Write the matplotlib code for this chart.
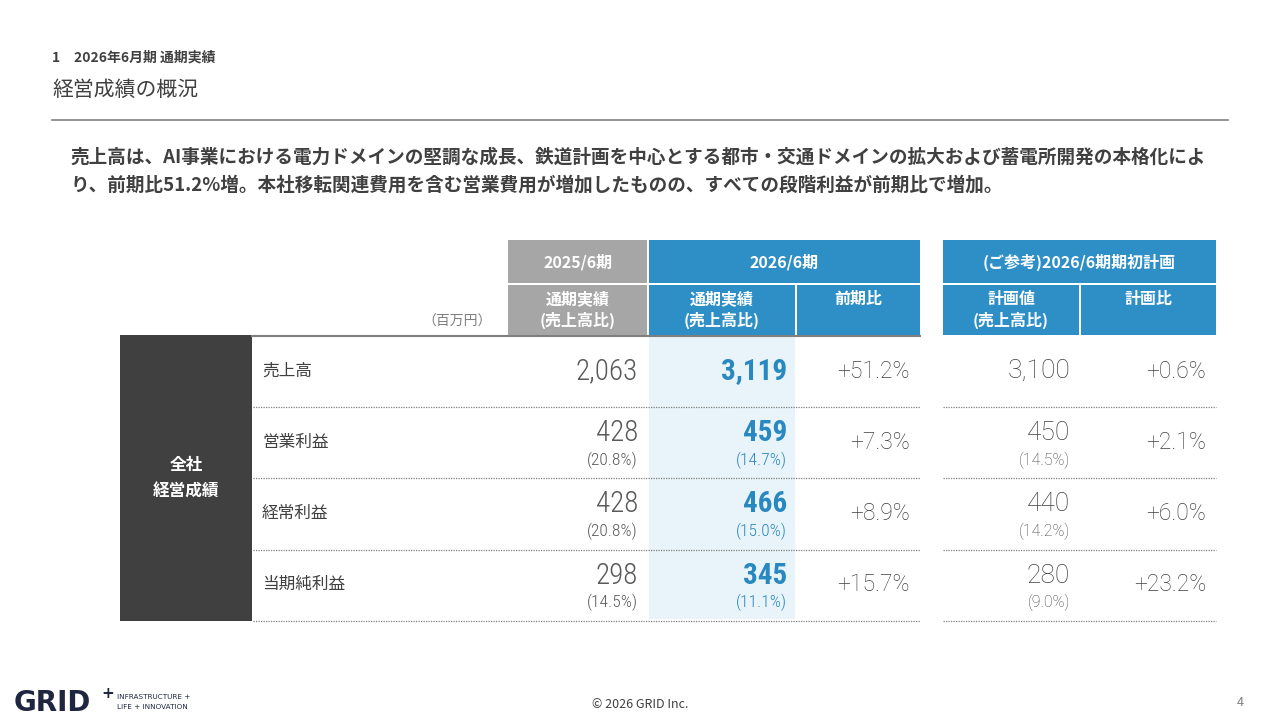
import matplotlib
matplotlib.use("Agg")
import matplotlib.pyplot as plt
from matplotlib import font_manager as fm
from matplotlib.patches import Rectangle

# ---------------- data ----------------
row_labels = ['売上高', '営業利益', '経常利益', '当期純利益']
prev_values = [2063, 428, 428, 298]
prev_ratio = [None, 20.8, 20.8, 14.5]
cur_values = [3119, 459, 466, 345]
cur_ratio = [None, 14.7, 15.0, 11.1]
yoy_change = [51.2, 7.3, 8.9, 15.7]
plan_values = [3100, 450, 440, 280]
plan_ratio = [None, 14.5, 14.2, 9.0]
plan_change = [0.6, 2.1, 6.0, 23.2]

section_label = '1　2026年6月期 通期実績'
title = '経営成績の概況'
para_lines = [
    '売上高は、AI事業における電力ドメインの堅調な成長、鉄道計画を中心とする都市・交通ドメインの拡大および蓄電所開発の本格化によ',
    'り、前期比51.2%増。本社移転関連費用を含む営業費用が増加したものの、すべての段階利益が前期比で増加。',
]
hdr_top = ['2025/6期', '2026/6期', '(ご参考)2026/6期期初計画']
hdr_sub = ['通期実績\n(売上高比)', '通期実績\n(売上高比)', '前期比', '計画値\n(売上高比)', '計画比']
unit_label = '（百万円）'
side_label = '全社\n経営成績'

# ---------------- fonts ----------------
names = {f.name for f in fm.fontManager.ttflist}
JP = ['Noto Sans CJK JP', 'DejaVu Sans']
cond_font = next((n for n in ['Roboto Condensed', 'Liberation Sans Narrow', 'Roboto'] if n in names), 'DejaVu Sans')
wide_font = next((n for n in ['Roboto', 'Open Sans', 'Lato'] if n in names), 'DejaVu Sans')
NUM = [cond_font, 'DejaVu Sans']
WNUM = [wide_font, 'DejaVu Sans']
plt.rcParams['font.family'] = JP

# ---------------- colours ----------------
C_TXT = '#404040'
C_NUM = '#595959'
C_NUM_W = '#3F3F3F'
C_BLUE = '#2E8FC7'
C_BLUE_T = '#2A88C0'
C_GRAY_H = '#A6A6A6'
C_DARK = '#404040'
C_HL = '#E8F4FA'

fig = plt.figure(figsize=(12.8, 7.2), dpi=100)
ax = fig.add_axes([0, 0, 1, 1])
ax.set_xlim(0, 1280)
ax.set_ylim(720, 0)
ax.axis('off')

# header
ax.text(52, 58, section_label, fontsize=10, color=C_TXT, va='center', ha='left', fontweight='bold')
ax.text(52, 90, title, fontsize=15, color=C_TXT, va='center', ha='left')
ax.plot([52, 1228], [120, 120], color='#7F7F7F', lw=1.2)
for i, ln in enumerate(para_lines):
    ax.text(70, 157 + i * 28, ln, fontsize=13.4, color=C_TXT, va='center', ha='left', fontweight='bold')

# table geometry
cols = [(508, 647), (649, 795), (797, 920), (943, 1079), (1081, 1216)]
row_top0 = 336
row_h = 71.2
n = len(row_labels)
tab_bottom = row_top0 + n * row_h

# top header row
ax.add_patch(Rectangle((508, 240), 139, 43, color=C_GRAY_H, lw=0))
ax.add_patch(Rectangle((649, 240), 271, 43, color=C_BLUE, lw=0))
ax.add_patch(Rectangle((943, 240), 273, 43, color=C_BLUE, lw=0))
ax.text(578, 262, hdr_top[0], fontsize=11.5, color='white', fontweight='bold', ha='center', va='center')
ax.text(784, 262, hdr_top[1], fontsize=11.5, color='white', fontweight='bold', ha='center', va='center')
ax.text(1079, 262, hdr_top[2], fontsize=11.5, color='white', fontweight='bold', ha='center', va='center')

# second header row
for j, (x0, x1) in enumerate(cols):
    ax.add_patch(Rectangle((x0, 285), x1 - x0, 50, color=C_GRAY_H if j == 0 else C_BLUE, lw=0))
    lines = hdr_sub[j].split('\n')
    for k, t in enumerate(lines):
        ax.text((x0 + x1) / 2, 299 + k * 21, t, fontsize=11.5, color='white', fontweight='bold',
                ha='center', va='center')
ax.text(492, 322, unit_label, fontsize=10, color='#7F7F7F', ha='right', va='center')

# highlight column
ax.add_patch(Rectangle((649, row_top0 + 1), 146, n * row_h - 3, color=C_HL, lw=0))
# header underline
ax.plot([252, 920], [336, 336], color='#7F7F7F', lw=1.5)

# side box
ax.add_patch(Rectangle((120, 335), 132, tab_bottom - 335, color=C_DARK, lw=0))
ax.text(186, 478, side_label, fontsize=12, color='white', fontweight='bold', ha='center', va='center',
        linespacing=1.6)

def fmt_num(v):
    return f'{v:,}'

def fmt_pct(v):
    return f'({v:.1f}%)'

for i in range(n):
    top = row_top0 + i * row_h
    bot = top + row_h
    # dotted separators
    ax.plot([253, 920], [bot, bot], color='#808080', lw=0.9, ls=(0, (1, 1)))
    ax.plot([943, 1216], [bot, bot], color='#808080', lw=0.9, ls=(0, (1, 1)))
    ax.text(262, top + 35, row_labels[i], fontsize=12, color=C_TXT, ha='left', va='center')

    has_ratio = prev_ratio[i] is not None
    y_main = top + (26 if has_ratio else 35)
    y_sub = top + 53

    ax.text(638, y_main, fmt_num(prev_values[i]), fontsize=21, color=C_NUM, fontfamily=NUM,
            fontweight='light', ha='right', va='center')
    ax.text(787, y_main, fmt_num(cur_values[i]), fontsize=21, color=C_BLUE_T, fontfamily=NUM,
            fontweight='bold', ha='right', va='center')
    ax.text(1070, y_main, fmt_num(plan_values[i]), fontsize=19, color=C_NUM_W, fontfamily=WNUM,
            fontweight='light', ha='right', va='center')
    if has_ratio:
        ax.text(638, y_sub, fmt_pct(prev_ratio[i]), fontsize=12.5, color=C_NUM, fontfamily=NUM,
                fontweight='light', ha='right', va='center')
        ax.text(787, y_sub, fmt_pct(cur_ratio[i]), fontsize=12.5, color=C_BLUE_T, fontfamily=NUM,
                fontweight='light', ha='right', va='center')
        ax.text(1070, y_sub, fmt_pct(plan_ratio[i]), fontsize=11.5, color=C_NUM_W, fontfamily=WNUM,
                fontweight='light', ha='right', va='center')
    ax.text(910, top + 35, f'+{yoy_change[i]:.1f}%', fontsize=16.5, color=C_NUM_W, fontfamily=WNUM,
            fontweight='light', ha='right', va='center')
    ax.text(1206, top + 35, f'+{plan_change[i]:.1f}%', fontsize=16.5, color=C_NUM_W, fontfamily=WNUM,
            fontweight='light', ha='right', va='center')

# footer
ax.text(640, 704, '© 2026 GRID Inc.', fontsize=9, color=C_TXT, ha='center', va='center')
ax.text(1240, 703, '4', fontsize=9, color='#7F7F7F', ha='center', va='center')
ax.text(14, 703, 'GRID', fontsize=20, color='#1F2640', fontweight='heavy', ha='left', va='center',
        fontfamily=['DejaVu Sans'])
ax.text(101, 694, '+', fontsize=11, color='#1F2640', fontweight='bold', ha='left', va='center',
        fontfamily=['DejaVu Sans'])
ax.text(117, 697, 'INFRASTRUCTURE +', fontsize=5.2, color='#1F2640', ha='left', va='center',
        fontfamily=['DejaVu Sans'])
ax.text(117, 707, 'LIFE + INNOVATION', fontsize=5.2, color='#1F2640', ha='left', va='center',
        fontfamily=['DejaVu Sans'])

fig.savefig('out.png', dpi=100, facecolor='white')
